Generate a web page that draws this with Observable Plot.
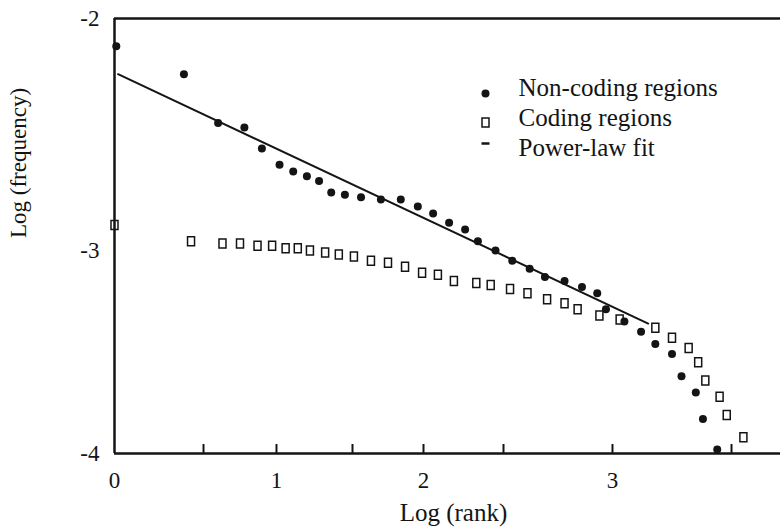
<!DOCTYPE html>
<html><head><meta charset="utf-8">
<script src="https://cdn.jsdelivr.net/npm/d3@7"></script>
<script src="https://cdn.jsdelivr.net/npm/@observablehq/plot@0.6"></script>
<style>html,body{margin:0;padding:0;background:#fff}#chart svg{display:block}</style>
</head><body><div id="chart"></div>
<script>
// ---- data ----
const nonCodingRank = [0.01,0.39,0.60,0.78,0.90,1.02,1.11,1.20,1.28,1.36,1.45,1.56,1.70,1.84,1.96,2.06,2.16,2.26,2.34,2.45,2.54,2.62,2.69,2.78,2.86,2.93,2.97,3.05,3.12,3.18,3.25,3.29,3.35,3.38,3.44];
const nonCodingFreq = [-2.12,-2.24,-2.45,-2.47,-2.56,-2.63,-2.66,-2.68,-2.70,-2.75,-2.76,-2.77,-2.78,-2.78,-2.81,-2.84,-2.88,-2.91,-2.96,-3.00,-3.05,-3.09,-3.13,-3.15,-3.18,-3.21,-3.29,-3.35,-3.40,-3.46,-3.51,-3.62,-3.70,-3.83,-3.98];
const codingRank = [0,0.43,0.63,0.75,0.87,0.97,1.06,1.14,1.22,1.32,1.41,1.51,1.63,1.75,1.87,1.99,2.09,2.19,2.33,2.42,2.53,2.61,2.70,2.78,2.84,2.94,3.03,3.18,3.25,3.32,3.36,3.39,3.45,3.48,3.55];
const codingFreq = [-2.89,-2.96,-2.97,-2.97,-2.98,-2.98,-2.99,-2.99,-3.00,-3.01,-3.02,-3.03,-3.05,-3.06,-3.08,-3.11,-3.12,-3.15,-3.16,-3.17,-3.19,-3.21,-3.24,-3.26,-3.29,-3.32,-3.34,-3.38,-3.43,-3.48,-3.55,-3.64,-3.72,-3.81,-3.92];
const fitRank = [0.02, 3.15];
const fitFreq = [-2.24, -3.36];
const xTickMarks = [0.5,1,1.5,2,2.5,3,3.5];
const xTickLabels = [0,1,2,3];
const yTickLabels = [-4,-3,-2];
const xTitle = "Log (rank)";
const yTitle = "Log (frequency)";
const legendLabels = ["Non-coding regions","Coding regions","Power-law fit"];

// ---- layout / hand-drawn axis calibration ----
const W = 780, H = 527;
const mL = 114, mT = 18, mR = 0, mB = 74;
const xDomain = [0,0.5,1,1.5,2,2.5,3,3.5];
const xRange = [114,203,276,352,423,503,612,731];
const yDomain = [-4,-3,-2];
const yRange = [H - mB, 250, mT];
const ink = "#141414";
const font = "'Liberation Serif', 'Times New Roman', serif";

const nonCoding = nonCodingRank.map((x,i)=>({x, y: nonCodingFreq[i]}));
const coding = codingRank.map((x,i)=>({x, y: codingFreq[i]}));
const fit = fitRank.map((x,i)=>({x, y: fitFreq[i]}));

const rectSymbol = {draw(ctx){ ctx.moveTo(-3.5,-4.5); ctx.lineTo(3.5,-4.5); ctx.lineTo(3.5,4.5); ctx.lineTo(-3.5,4.5); ctx.closePath(); }};
const dashSymbol = {draw(ctx){ ctx.moveTo(-4,0); ctx.lineTo(4,0); }};

const frameH = H - mT - mB;
const legendText = [69, 99, 129];
const legendSym = [75, 104, 125];

const legendMarks = [];
legendLabels.forEach((lab,i)=>{
  legendMarks.push(Plot.text([lab], {text: d=>d, frameAnchor:"top-left", lineAnchor:"middle", dx:404, dy:legendText[i], textAnchor:"start", fontSize:25, fill: ink}));
});
legendMarks.push(Plot.dot([legendLabels[0]], {frameAnchor:"top-left", dx:371, dy:legendSym[0], r:4, fill: ink}));
legendMarks.push(Plot.dot([legendLabels[1]], {frameAnchor:"top-left", dx:371, dy:legendSym[1], symbol: rectSymbol, fill:"none", stroke: ink, strokeWidth:1.5}));
legendMarks.push(Plot.dot([legendLabels[2]], {frameAnchor:"top-left", dx:371, dy:legendSym[2], symbol: dashSymbol, fill:"none", stroke: ink, strokeWidth:2.5}));

const chart = Plot.plot({
  width: W, height: H,
  marginLeft: mL, marginTop: mT, marginRight: mR, marginBottom: mB,
  style: {fontFamily: font, fontSize: "23px", background: "#fff", color: ink},
  x: {type: "linear", domain: xDomain, range: xRange},
  y: {type: "linear", domain: yDomain, range: yRange},
  marks: [
    Plot.ruleY([-2], {stroke: ink, strokeWidth: 2.5}),
    Plot.ruleY([-4], {stroke: ink, strokeWidth: 2.5}),
    Plot.ruleX([0], {stroke: ink, strokeWidth: 2.5}),
    Plot.tickX(xTickMarks, {x: d=>d, insetTop: frameH - 9, stroke: ink, strokeWidth: 2}),
    Plot.axisX({ticks: xTickLabels, tickSize: 0, tickPadding: 18, tickFormat: d=>String(d), fontSize: 23, label: null, fill: ink}),
    Plot.axisY({ticks: yTickLabels, tickSize: 0, tickPadding: 15, tickFormat: d=>String(d), fontSize: 23, label: null, fill: ink}),
    Plot.line(fit, {x:"x", y:"y", stroke: ink, strokeWidth: 2}),
    Plot.dot(coding, {x:"x", y:"y", symbol: rectSymbol, fill:"none", stroke: ink, strokeWidth: 1.5}),
    Plot.dot(nonCoding, {x:"x", y:"y", r: 4, fill: ink}),
    Plot.text([xTitle], {text: d=>d, frameAnchor:"bottom", lineAnchor:"middle", dx: 6, dy: 59, fontSize: 25, fill: ink}),
    Plot.text([yTitle], {text: d=>d, frameAnchor:"left", lineAnchor:"middle", dx: -96, dy: 2, rotate: -90, fontSize: 23, fill: ink}),
    ...legendMarks
  ]
});
document.getElementById("chart").appendChild(chart);
</script>
</body></html>
